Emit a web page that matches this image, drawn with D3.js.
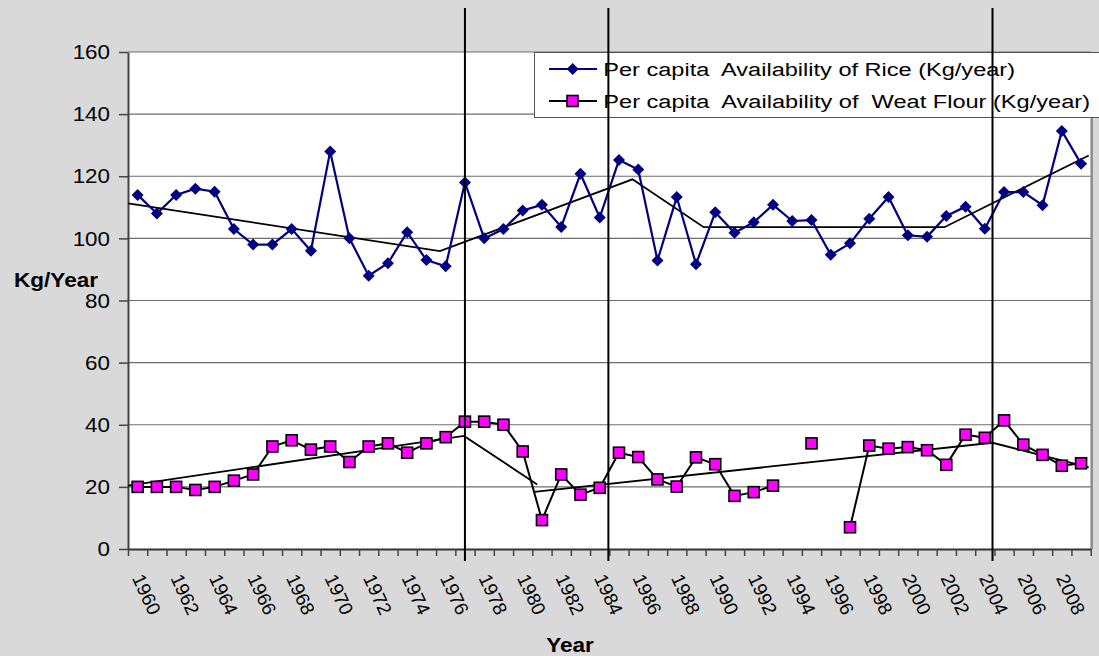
<!DOCTYPE html>
<html>
<head>
<meta charset="utf-8">
<script src="https://cdn.jsdelivr.net/npm/d3@7"></script>
<style>
  body { margin: 0; background: #d9d9d9; }
  svg { display: block; }
  text { font-family: "Liberation Sans", Arial, sans-serif; fill: #000; }
</style>
</head>
<body>
<div class="chart"></div>
<script>
// categories
var years = d3.range(1960, 2010);
var yTicks = [0, 20, 40, 60, 80, 100, 120, 140, 160];

// series values (Kg/year)
var rice = [114, 108, 114, 116, 115, 103, 98, 98, 103, 96,
            128, 100, 88, 92, 102, 93, 91, 118, 100, 103,
            109, 110.8, 103.7, 120.8, 106.7, 125.2, 122.2, 92.9, 113.3, 91.7,
            108.4, 101.8, 105.2, 110.8, 105.6, 105.9, 94.7, 98.4, 106.3, 113.3,
            101, 100.5, 107.2, 110.2, 103.1, 114.9, 114.9, 110.7, 134.6, 124];
var wheat = [20, 20, 20, 19, 20, 22, 24, 33, 35, 32,
             33, 28, 33, 34, 31, 34, 36, 41, 41, 40,
             31.4, 9.3, 24, 17.5, 19.7, 31, 29.6, 22.4, 20.1, 29.5,
             27.3, 17.1, 18.3, 20.4, null, 34, null, 7, 33.3, 32.3,
             32.8, 31.8, 27.1, 36.8, 35.8, 41.4, 33.6, 30.3, 26.8, 27.6];

// hand drawn trend segments [year, value]
var riceTrend = [[1959.5, 111.3], [1975.7, 95.9], [1985.7, 119], [1989.4, 103.6], [2001.9, 103.6], [2009.4, 126.7]];
var wheatTrendA = [[1959.5, 20.4], [1976.95, 36.4], [1980.75, 20.8]];
var wheatTrendB = [[1980.6, 18.4], [2004.4, 34.2], [2009.4, 26.3]];
var markerYears = [1977, 1984.45, 2004.4];

var legendLabels = ["Per capita  Availability of Rice (Kg/year)",
                    "Per capita  Availability of  Weat Flour (Kg/year)"];

var W = 1099, H = 656;
var plotL = 128, plotR = 1090.7, plotT = 52, plotB = 549;

var svg = d3.select(".chart").append("svg")
    .attr("width", W).attr("height", H);

svg.append("rect").attr("width", W).attr("height", H).attr("fill", "#d9d9d9");

var x = d3.scaleBand().domain(years).range([plotL, plotR]).padding(0);
var xl = d3.scaleLinear().domain([1959.5, 2009.5]).range([plotL, plotR]);
var y = d3.scaleLinear().domain([0, 160]).range([plotB, plotT]);
var cx = function (yr) { return x(yr) + x.bandwidth() / 2; };

// plot area
svg.append("rect")
    .attr("x", plotL).attr("y", plotT)
    .attr("width", plotR - plotL).attr("height", plotB - plotT)
    .attr("fill", "#fff");
svg.append("line")
    .attr("x1", plotR + 1).attr("x2", plotR + 1)
    .attr("y1", plotT).attr("y2", plotB)
    .attr("stroke", "#8c8c8c").attr("stroke-width", 2.5);

// gridlines
svg.append("g").selectAll("line")
    .data(yTicks.filter(function (d) { return d > 0; }))
    .enter().append("line")
    .attr("x1", plotL).attr("x2", plotR)
    .attr("y1", function (d) { return y(d); })
    .attr("y2", function (d) { return y(d); })
    .attr("stroke", "#6e6e6e").attr("stroke-width", 1.2);

// y axis
var yAxis = svg.append("g")
    .attr("transform", "translate(" + plotL + ",0)")
    .call(d3.axisLeft(y).tickValues(yTicks).tickSize(9).tickSizeOuter(0).tickFormat(""));
yAxis.select(".domain").attr("stroke", "#444").attr("stroke-width", 2);
yAxis.selectAll(".tick line").attr("stroke", "#444").attr("stroke-width", 1.5);

svg.append("g").selectAll("text")
    .data(yTicks)
    .enter().append("text")
    .attr("transform", function (d) { return "translate(110," + y(d) + ") scale(1.12,1)"; })
    .attr("text-anchor", "end")
    .attr("dy", "0.36em")
    .attr("font-size", 20)
    .text(function (d) { return d; });

// x axis: ticks on category boundaries
var bounds = years.map(function (d) { return d - 0.5; }).concat([2009.5]);
var xAxis = svg.append("g")
    .attr("transform", "translate(0," + plotB + ")")
    .call(d3.axisBottom(xl).tickValues(bounds).tickSize(7).tickSizeOuter(0).tickFormat(""));
xAxis.select(".domain").attr("stroke", "#333").attr("stroke-width", 2);
xAxis.selectAll(".tick line").attr("stroke", "#444").attr("stroke-width", 1.5);

svg.append("g").selectAll("text")
    .data(years.filter(function (d) { return d % 2 === 0; }))
    .enter().append("text")
    .attr("transform", function (d) { return "translate(" + (cx(d) - 6) + ",578) rotate(65)"; })
    .attr("font-size", 19)
    .text(function (d) { return d; });

// axis titles
svg.append("text")
    .attr("transform", "translate(56,287) scale(1.13,1)")
    .attr("text-anchor", "middle")
    .attr("font-size", 20).attr("font-weight", "bold")
    .text("Kg/Year");
svg.append("text")
    .attr("transform", "translate(570,652) scale(1.13,1)")
    .attr("text-anchor", "middle")
    .attr("font-size", 20).attr("font-weight", "bold")
    .text("Year");

// trend lines
var trend = d3.line()
    .x(function (d) { return xl(d[0]); })
    .y(function (d) { return y(d[1]); });
[riceTrend, wheatTrendA, wheatTrendB].forEach(function (t) {
    svg.append("path").datum(t)
        .attr("d", trend)
        .attr("fill", "none").attr("stroke", "#000").attr("stroke-width", 1.8);
});

// rice series
var riceLine = d3.line()
    .x(function (d, i) { return cx(years[i]); })
    .y(function (d) { return y(d); });
svg.append("path").datum(rice)
    .attr("d", riceLine)
    .attr("fill", "none").attr("stroke", "#000080").attr("stroke-width", 2.2);

var diamond = d3.symbol().type(d3.symbolSquare).size(72);
svg.append("g").selectAll("path")
    .data(rice)
    .enter().append("path")
    .attr("d", diamond)
    .attr("transform", function (d, i) { return "translate(" + cx(years[i]) + "," + y(d) + ") rotate(45)"; })
    .attr("fill", "#000080");

// wheat series
var wheatLine = d3.line()
    .defined(function (d) { return d !== null; })
    .x(function (d, i) { return cx(years[i]); })
    .y(function (d) { return y(d); });
svg.append("path").datum(wheat)
    .attr("d", wheatLine)
    .attr("fill", "none").attr("stroke", "#000").attr("stroke-width", 2);

var wheatPts = wheat.map(function (v, i) { return { yr: years[i], v: v }; })
    .filter(function (d) { return d.v !== null; });
svg.append("g").selectAll("rect")
    .data(wheatPts)
    .enter().append("rect")
    .attr("x", function (d) { return cx(d.yr) - 5.5; })
    .attr("y", function (d) { return y(d.v) - 5.5; })
    .attr("width", 11).attr("height", 11)
    .attr("fill", "#ff00ff").attr("stroke", "#000").attr("stroke-width", 1.6);

// legend
var lg = svg.append("g");
lg.append("rect")
    .attr("x", 534.5).attr("y", 52.5)
    .attr("width", 580).attr("height", 65)
    .attr("fill", "#fff").attr("stroke", "#555").attr("stroke-width", 1);
var rowsY = [69, 101];
lg.append("line").attr("x1", 549).attr("x2", 597).attr("y1", rowsY[0]).attr("y2", rowsY[0])
    .attr("stroke", "#000080").attr("stroke-width", 2);
lg.append("path").attr("d", diamond)
    .attr("transform", "translate(572.7," + rowsY[0] + ") rotate(45)")
    .attr("fill", "#000080");
lg.append("line").attr("x1", 549).attr("x2", 597).attr("y1", rowsY[1]).attr("y2", rowsY[1])
    .attr("stroke", "#000").attr("stroke-width", 2);
lg.append("rect").attr("x", 567).attr("y", rowsY[1] - 5.5)
    .attr("width", 11).attr("height", 11)
    .attr("fill", "#ff00ff").attr("stroke", "#000").attr("stroke-width", 1.6);
var legendWidths = [411.7, 486.7];
lg.selectAll("text.lab")
    .data(legendLabels)
    .enter().append("text")
    .attr("class", "lab")
    .attr("x", 603.3)
    .attr("y", function (d, i) { return rowsY[i] + 7; })
    .attr("font-size", 18)
    .attr("textLength", function (d, i) { return legendWidths[i]; })
    .attr("lengthAdjust", "spacingAndGlyphs")
    .style("white-space", "pre")
    .text(function (d) { return d; });

// vertical period markers
svg.append("g").selectAll("line")
    .data(markerYears)
    .enter().append("line")
    .attr("x1", function (d) { return xl(d); })
    .attr("x2", function (d) { return xl(d); })
    .attr("y1", 8).attr("y2", 561)
    .attr("stroke", "#000").attr("stroke-width", 2);
</script>
</body>
</html>
